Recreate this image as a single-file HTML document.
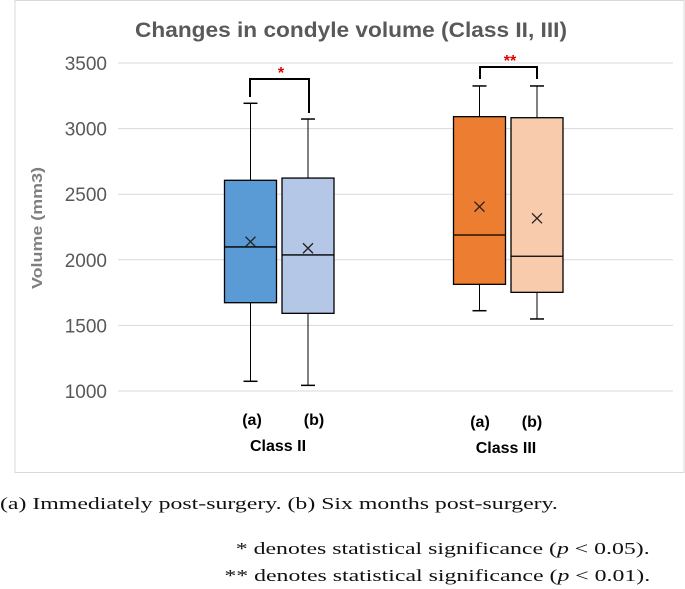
<!DOCTYPE html>
<html><head><meta charset="utf-8"><style>
body{margin:0;width:685px;height:589px;background:#fff;overflow:hidden;font-family:"Liberation Sans",sans-serif}
.cap{position:absolute;font-family:"Liberation Serif","Noto Serif CJK SC",serif;font-size:17px;color:#111;white-space:nowrap;transform:scaleX(1.4)}
</style></head><body>
<svg width="685" height="475" style="position:absolute;left:0;top:0">
<rect x="15" y="0.5" width="669" height="472" fill="#fff" stroke="#d9d9d9"/>
<text x="351" y="37" text-anchor="middle" font-size="21" font-weight="bold" fill="#595959" textLength="432" lengthAdjust="spacingAndGlyphs">Changes in condyle volume (Class II, III)</text>
<text transform="translate(42,228) rotate(-90)" text-anchor="middle" font-size="15" font-weight="bold" fill="#7f7f7f" textLength="122" lengthAdjust="spacingAndGlyphs">Volume (mm3)</text>
<g id="grid"></g><g id="boxes"></g><g id="annot"></g>
</svg>
<div class="cap" style="left:0;top:494px;transform-origin:left center">(a) Immediately post-surgery. (b) Six months post-surgery.</div>
<div class="cap" style="right:35px;top:539px;transform-origin:right center">* denotes statistical significance (<i>p</i> &lt; 0.05).</div>
<div class="cap" style="right:35px;top:566px;transform-origin:right center">** denotes statistical significance (<i>p</i> &lt; 0.01).</div>
<script>
const ticks=[1000,1500,2000,2500,3000,3500];
const categories=["Class II (a)","Class II (b)","Class III (a)","Class III (b)"];
const mins=[1074,1043,1612,1549];
const q1s=[1673,1592,1813,1752];
const medians=[2098,2037,2189,2027];
const q3s=[2606,2623,3091,3083];
const maxs=[3193,3073,3325,3325];
const means=[2138,2088,2405,2316];
const fills=["#5b9bd5","#b4c7e7","#ed7d31","#f8cbad"];
const boxX=[224.5,282,453.5,511];
const BW=52;
const NS="http://www.w3.org/2000/svg";
function y(v){return 391-(v-1000)/2500*328;}
function mk(p,tag,a){const e=document.createElementNS(NS,tag);for(const k in a)e.setAttribute(k,a[k]);p.appendChild(e);return e;}
const g=document.getElementById('grid');
ticks.forEach(t=>{
 const l=mk(g,'line',{x1:118,x2:673,y1:y(t),y2:y(t),stroke:'#d9d9d9','stroke-width':1});
 
 
 const tx=mk(g,'text',{x:107,y:y(t)+7,'text-anchor':'end','font-size':19,fill:'#595959'});
 tx.textContent=t;
 
 
});
const b=document.getElementById('boxes');
categories.forEach((c,i)=>{
 const x=boxX[i],cx=x+BW/2;
 const grp=mk(b,'g',{});
 
 
 mk(grp,'line',{x1:cx,x2:cx,y1:y(maxs[i]),y2:y(q3s[i]),stroke:'#000'});
 mk(grp,'line',{x1:cx,x2:cx,y1:y(q1s[i]),y2:y(mins[i]),stroke:'#000'});
 mk(grp,'line',{x1:cx-7,x2:cx+7,y1:y(maxs[i]),y2:y(maxs[i]),stroke:'#000','stroke-width':1.5});
 mk(grp,'line',{x1:cx-7,x2:cx+7,y1:y(mins[i]),y2:y(mins[i]),stroke:'#000','stroke-width':1.5});
 mk(grp,'rect',{x:x,y:y(q3s[i]),width:BW,height:y(q1s[i])-y(q3s[i]),fill:fills[i],stroke:'#000','stroke-width':1.3});
 mk(grp,'line',{x1:x,x2:x+BW,y1:y(medians[i]),y2:y(medians[i]),stroke:'#000','stroke-width':1.3});
 const my=y(means[i]);
 mk(grp,'path',{d:`M${cx-5} ${my-5}L${cx+5} ${my+5}M${cx+5} ${my-5}L${cx-5} ${my+5}`,stroke:'#222','stroke-width':1.3});
});
const a=document.getElementById('annot');
a.innerHTML=`<path d="M250 97V79H309V113" fill="none" stroke="#000" stroke-width="2"/>
<text x="281" y="78" text-anchor="middle" font-size="16" font-weight="bold" fill="#e00000">*</text>
<path d="M480 79V67H537V79" fill="none" stroke="#000" stroke-width="2"/>
<text x="510" y="66" text-anchor="middle" font-size="16" font-weight="bold" fill="#e00000">**</text>
<g font-size="16" font-weight="bold" fill="#000" text-anchor="middle">
<text x="252" y="425">(a)</text>
<text x="314" y="425">(b)</text>
<text x="278" y="451">Class II</text>
<text x="480" y="427">(a)</text>
<text x="532" y="427">(b)</text>
<text x="506" y="453">Class III</text></g>`;
</script>
</body></html>
